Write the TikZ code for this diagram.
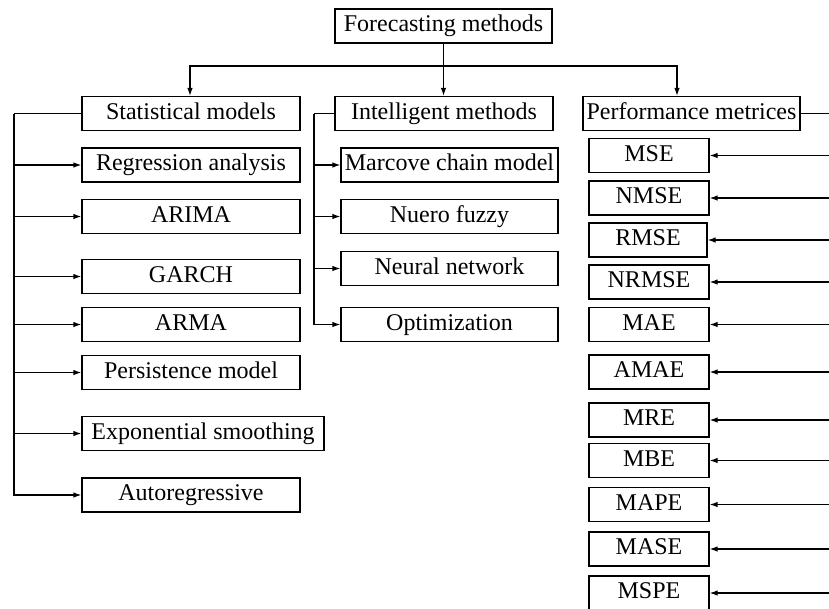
\documentclass[tikz,border=0pt]{standalone}
\usepackage{fontspec}
\setmainfont{Liberation Serif}
\usetikzlibrary{arrows.meta}
\begin{document}
\begin{tikzpicture}[x=1pt,y=-1pt,
  box/.style={draw,line width=1.2pt,inner sep=0pt,minimum height=34pt,
    text height=16.5pt,text depth=5pt,
    font=\fontsize{24}{28}\selectfont},
  wire/.style={line width=1.2pt},
  arr/.style={wire,-{Latex[length=8pt,width=5.5pt]}}]
\useasboundingbox (0,0) rectangle (829,608);

% root and the three branches
\node[box,minimum width=217pt] (fm) at (443.5,26) {Forecasting methods};
\node[box,minimum width=218pt] (stat) at (191,113.5) {Statistical models};
\node[box,minimum width=218pt] (intel) at (444,113.5) {Intelligent methods};
\node[box,minimum width=217pt] (perf) at (691.5,113.5) {Performance metrices};

% statistical models
\node[box,minimum width=218pt] (reg) at (191,165) {Regression analysis};
\node[box,minimum width=218pt] (arima) at (191,216.5) {ARIMA};
\node[box,minimum width=218pt] (garch) at (191,276.5) {GARCH};
\node[box,minimum width=218pt] (arma) at (191,324.5) {ARMA};
\node[box,minimum width=218pt] (pers) at (191,372.5) {Persistence model};
\node[box,minimum width=242pt] (expo) at (203,433.5) {Exponential smoothing};
\node[box,minimum width=218pt] (autor) at (191,495) {Autoregressive};

% intelligent methods
\node[box,minimum width=217pt] (mark) at (449.5,165) {Marcove chain model};
\node[box,minimum width=217pt] (fuzzy) at (449.5,216.5) {Nuero fuzzy};
\node[box,minimum width=217pt] (nn) at (449.5,268.5) {Neural network};
\node[box,minimum width=217pt] (opt) at (449.5,324.5) {Optimization};

% performance metrics
\node[box,minimum width=120pt] (mse) at (649,155.5) {MSE};
\node[box,minimum width=120pt] (nmse) at (649,198) {NMSE};
\node[box,minimum width=118pt] (rmse) at (648,240) {RMSE};
\node[box,minimum width=120pt] (nrmse) at (649,282) {NRMSE};
\node[box,minimum width=120pt] (mae) at (649,324.5) {MAE};
\node[box,minimum width=120pt] (amae) at (649,372) {AMAE};
\node[box,minimum width=120pt] (mre) at (649,420) {MRE};
\node[box,minimum width=120pt] (mbe) at (649,460.5) {MBE};
\node[box,minimum width=120pt] (mape) at (649,504.5) {MAPE};
\node[box,minimum width=120pt] (mase) at (649,549) {MASE};
\node[box,minimum width=120pt] (mspe) at (649,593) {MSPE};

% top-level distribution bar
\coordinate (bar) at (443.5,66);
\draw[arr] (fm.south) -- (intel.north -| fm.south);
\draw[arr] (bar) -| ([xshift=-1pt]stat.north);
\draw[arr] (bar) -| ([xshift=-14.5pt]perf.north);

% statistical models bus
\coordinate (lb) at (14,113.5);
\draw[wire] (stat.west) -- (lb);
\draw[arr] (lb) |- (autor.west);
\foreach \n in {reg,arima,garch,arma,pers,expo}
  \draw[arr] (lb |- \n.west) -- (\n.west);

% intelligent methods bus
\coordinate (ib) at (314,113.5);
\draw[wire] (intel.west) -- (ib);
\draw[arr] (ib) |- (opt.west);
\foreach \n in {mark,fuzzy,nn}
  \draw[arr] (ib |- \n.west) -- (\n.west);

% performance metrics feed from the right
\coordinate (rb) at (829,113.5);
\draw[wire] (perf.east) -- (rb);
\foreach \n in {mse,nmse,rmse,nrmse,mae,amae,mre,mbe,mape,mase,mspe}
  \draw[arr] (rb |- \n.east) -- (\n.east);
\end{tikzpicture}
\end{document}
